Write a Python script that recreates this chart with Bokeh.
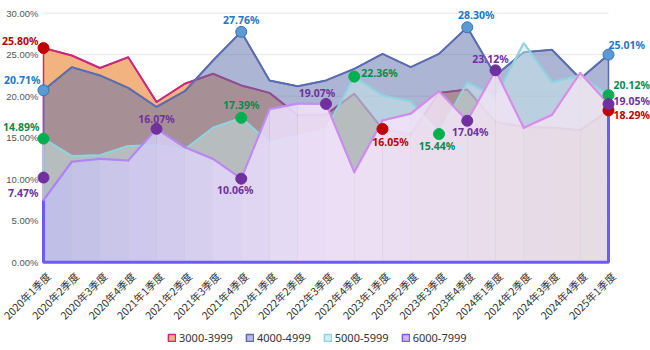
import math
from bokeh.plotting import figure
from bokeh.models import Range1d, Legend, LegendItem, Label
from bokeh.embed import file_html
from bokeh.resources import INLINE

quarters = ["2020年1季度", "2020年2季度", "2020年3季度", "2020年4季度",
            "2021年1季度", "2021年2季度", "2021年3季度", "2021年4季度",
            "2022年1季度", "2022年2季度", "2022年3季度", "2022年4季度",
            "2023年1季度", "2023年2季度", "2023年3季度", "2023年4季度",
            "2024年1季度", "2024年2季度", "2024年3季度", "2024年4季度",
            "2025年1季度"]

series_names = ["3000-3999", "4000-4999", "5000-5999", "6000-7999"]

s3000 = [25.80, 24.9, 23.4, 24.7, 19.3, 21.5, 22.7, 21.3, 20.4, 17.7, 17.8, 20.3,
         16.05, 15.4, 20.4, 20.8, 16.9, 16.3, 16.2, 15.9, 18.29]
s4000 = [20.71, 23.5, 22.5, 21.0, 18.7, 20.6, 24.3, 27.76, 21.9, 21.2, 21.9, 23.3,
         25.1, 23.5, 25.1, 28.30, 22.5, 25.3, 25.6, 22.1, 25.01]
s5000 = [14.89, 12.8, 12.9, 14.0, 14.1, 13.6, 16.2, 17.39, 14.4, 15.2, 16.0, 22.36,
         20.1, 19.4, 15.44, 21.7, 19.9, 26.4, 21.7, 22.5, 20.12]
s6000 = [7.47, 12.1, 12.45, 12.25, 16.07, 13.85, 12.45, 10.06, 18.45, 19.1, 19.07, 10.85,
         17.07, 17.9, 20.6, 17.04, 23.12, 16.2, 17.75, 22.8, 19.05]
series = [s3000, s4000, s5000, s6000]

# labelled points: (series index, quarter index)
marked = [(0, 0), (0, 12), (0, 20),
          (1, 0), (1, 7), (1, 15), (1, 20),
          (2, 0), (2, 7), (2, 11), (2, 14), (2, 20),
          (3, 0), (3, 4), (3, 7), (3, 10), (3, 15), (3, 16), (3, 20)]
# where the first 6000-7999 marker dot sits
dot_override = {(3, 0): 10.2}

y_ticks = [0, 5, 10, 15, 20, 25, 30]

# ---------------- styles ----------------
line_colors = ["#c92a7c", "#5b6db0", "#8fd3de", "#c88af0"]
fill_colors = ["#f0a060", "#5a6eaa", "#c8e8ea", "#dcd2f5"]
fill_alphas = [0.8, 0.5, 0.5, 0.8]
legend_fills = ["#f5b07a", "#b8bedc", "#cdeef2", "#cdb4f8"]
legend_lines = ["#c92a7c", "#5b6db0", "#8fd3de", "#7a5cf0"]
dot_colors = ["#c00000", "#5b9bd5", "#00b050", "#7030a0"]
dot_lines = ["#c00000", "#3a6fb0", "#00b050", "#7030a0"]
text_colors = ["#c00000", "#1a78c8", "#0a8a4a", "#7030a0"]
# gradient stops for the top area fill (rgb + alpha) and its line, across the x span
grad_fill = [(0.0, (191, 190, 237, 0.85)), (0.5, (242, 226, 252, 0.9)),
             (1.0, (249, 232, 242, 0.7))]
grad_line = [(0.0, (170, 130, 245, 1.0)), (0.5, (200, 140, 240, 1.0)),
             (1.0, (225, 140, 230, 1.0))]
edge_color = "#6c5cf6"
# label placement (align, dx, dy screen px; dy positive = up)
label_pos = {
    (0, 0): ("right", -5, 7), (0, 12): ("center", 8, -13), (0, 20): ("left", 5, -5),
    (1, 0): ("right", -3, 10), (1, 7): ("center", 0, 12), (1, 15): ("center", 9, 12),
    (1, 20): ("left", 0, 10),
    (2, 0): ("right", -4, 12), (2, 7): ("center", 0, 13), (2, 11): ("left", 7, 4),
    (2, 14): ("center", -2, -12), (2, 20): ("left", 5, 10),
    (3, 0): ("right", -5, -15), (3, 4): ("center", 0, 10), (3, 7): ("center", -6, -11),
    (3, 10): ("center", -9, 11), (3, 15): ("center", 3, -11), (3, 16): ("center", -5, 11),
    (3, 20): ("left", 5, 3),
}

W, H = 650, 350
plot_left, plot_right = 43, 608     # pixel of first / last quarter
plot_bottom, plot_top = 261.7, 12.7  # pixel of 0 % / 30 %

x = list(range(len(quarters)))
n = len(x) - 1
pxu = (plot_right - plot_left) / n
pyu = (plot_bottom - plot_top) / y_ticks[-1]

p = figure(width=W, height=H, output_backend="svg", toolbar_location=None,
           x_range=Range1d(-plot_left / pxu, (W - plot_left) / pxu),
           y_range=Range1d(-(H - plot_bottom) / pyu, plot_bottom / pyu),
           x_axis_type=None, y_axis_type=None,
           min_border=0, min_border_left=0, min_border_right=0,
           min_border_top=0, min_border_bottom=0)
p.outline_line_color = None
p.background_fill_color = "white"
p.border_fill_color = "white"
p.grid.visible = False


def interp(stops, t):
    for (t0, c0), (t1, c1) in zip(stops[:-1], stops[1:]):
        if t0 <= t <= t1:
            f = (t - t0) / (t1 - t0)
            v = [a + (b - a) * f for a, b in zip(c0, c1)]
            return "#%02x%02x%02x" % tuple(int(round(c)) for c in v[:3]), v[3]
    c = stops[-1][1]
    return "#%02x%02x%02x" % c[:3], c[3]


# grid lines
p.segment(x0=[x[0]] * len(y_ticks), x1=[x[-1]] * len(y_ticks), y0=y_ticks, y1=y_ticks,
          line_color="#e6e6e6", line_width=1)

for k, vals in enumerate(series):
    xs = [x[0]] + x + [x[-1]]
    ys = [0] + vals + [0]
    if k < 3:
        p.patch(xs, ys, fill_color=fill_colors[k], fill_alpha=fill_alphas[k],
                line_color=line_colors[k], line_width=1.5)
        p.line(x, vals, line_color=line_colors[k], line_width=2)
    else:
        # horizontally graded fill, one strip per quarter interval
        for i in range(n):
            col, a = interp(grad_fill, (i + 0.5) / n)
            p.patch([x[i], x[i + 1], x[i + 1], x[i]], [0, 0, vals[i + 1], vals[i]],
                    fill_color=col, fill_alpha=a, line_color=None)
        p.line([x[0], x[0], x[-1], x[-1]], [vals[0], 0, 0, vals[-1]],
               line_color=edge_color, line_width=3)
        seg_cols = [interp(grad_line, (i + 0.5) / n)[0] for i in range(n)]
        p.segment(x0=x[:-1], x1=x[1:], y0=vals[:-1], y1=vals[1:], line_color=seg_cols,
                  line_width=2.2, line_cap="round")

for (k, i) in marked:
    yv = dot_override.get((k, i), series[k][i])
    p.scatter([x[i]], [yv], size=11, fill_color=dot_colors[k], line_color=dot_lines[k],
              line_width=1)
    align, dx, dy = label_pos[(k, i)]
    p.add_layout(Label(x=x[i], y=yv, text="%.2f%%" % series[k][i],
                       x_offset=dx, y_offset=dy, text_align=align, text_baseline="middle",
                       text_font="Noto Sans", text_font_style="bold", text_font_size="10.5px",
                       text_color=text_colors[k]))

# y tick labels
for t in y_ticks:
    p.add_layout(Label(x=x[0], y=t, text="%.2f%%" % t, x_offset=-5, y_offset=0,
                       text_align="right", text_baseline="middle",
                       text_font="Liberation Sans", text_font_size="9.5px",
                       text_color="#555555"))

# x tick labels (rotated 45 degrees)
for i, q in zip(x, quarters):
    p.add_layout(Label(x=i, y=0, text=q, angle=math.pi / 4, x_offset=5, y_offset=-12,
                       text_align="right", text_baseline="middle",
                       text_font="Noto Sans CJK SC", text_font_size="10.5px",
                       text_color="#333333"))

# legend (swatch renderers hold a single empty NaN box so only the key shows)
nan = float("nan")
items = []
for k, name in enumerate(series_names):
    r = p.quad(left=[nan], right=[nan], top=[nan], bottom=[nan], fill_color=legend_fills[k],
               line_color=legend_lines[k], line_width=1.5)
    items.append(LegendItem(label=name, renderers=[r]))
legend = Legend(items=items, orientation="horizontal", location=(167, 5),
                glyph_width=9, glyph_height=9, spacing=12, label_standoff=3,
                padding=0, margin=0, border_line_color=None, background_fill_alpha=0,
                label_text_font="Noto Sans", label_text_font_size="11px",
                label_text_color="#333333", label_height=14, label_text_baseline="middle")
p.add_layout(legend, "center")

open("out.html", "w").write(file_html(p, INLINE))
